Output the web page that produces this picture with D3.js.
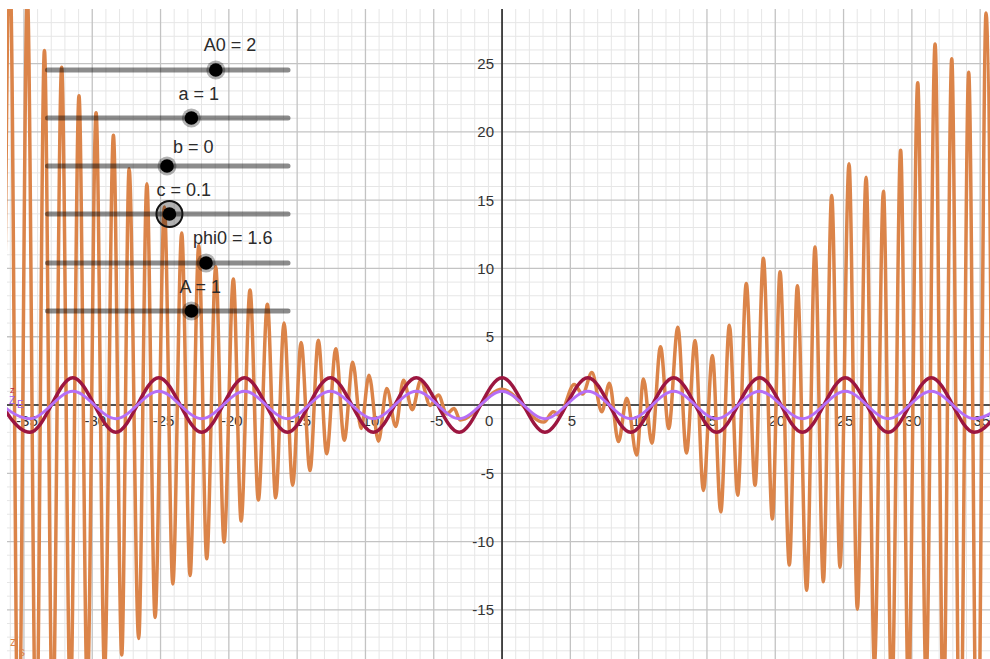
<!DOCTYPE html>
<html>
<head>
<meta charset="utf-8">
<script src="https://cdn.jsdelivr.net/npm/d3@7"></script>
<style>
body { margin: 0; background: #fff; }
text { font-family: "Liberation Sans", Arial, sans-serif; }
</style>
</head>
<body>
<svg id="graph" width="990" height="659"></svg>
<script>
// tick labels on the axes
var xTicks = [-35, -30, -25, -20, -15, -10, -5, 5, 10, 15, 20, 25, 30, 35];
var yTicks = [-15, -10, -5, 5, 10, 15, 20, 25];

// the two slow waves: extrema positions
var slowX = [-37.70, -34.56, -31.42, -28.27, -25.13, -21.99, -18.85, -15.71, -12.57, -9.42, -6.28, -3.14,
	0, 3.14, 6.28, 9.42, 12.57, 15.71, 18.85, 21.99, 25.13, 28.27, 31.42, 34.56, 37.70];
var redY = [2, -2, 2, -2, 2, -2, 2, -2, 2, -2, 2, -2, 2, -2, 2, -2, 2, -2, 2, -2, 2, -2, 2, -2, 2];
var purpleY = [1, -1, 1, -1, 1, -1, 1, -1, 1, -1, 1, -1, 1, -1, 1, -1, 1, -1, 1, -1, 1, -1, 1, -1, 1];

// the fast orange curve: peaks and troughs [x, y]
var orangeCurve = [
	[-36.7, -30], [-36.0, 31], [-35.4, -28], [-34.75, 30], [-34.1, -26], [-33.5, 25.97],
	[-32.9, -24], [-32.24, 24.74], [-31.6, -22], [-30.97, 22.65], [-30.36, -21], [-29.72, 21.4],
	[-29.1, -19.5], [-28.45, 19.75], [-27.84, -18.3], [-27.3, 17.3], [-26.6, -17.1], [-26.0, 16.2],
	[-25.4, -15.57], [-24.72, 14.5], [-24.1, -13.1], [-23.45, 12.6], [-22.84, -12.49], [-22.2, 11.68],
	[-21.62, -11.26], [-20.96, 10.12], [-20.35, -10.03], [-19.67, 9.23], [-19.1, -8.49], [-18.45, 8.43],
	[-17.84, -6.95], [-17.18, 7.37], [-16.57, -6.8], [-15.96, 6.0], [-15.33, -5.88], [-14.71, 4.58],
	[-14.06, -4.8], [-13.45, 4.74], [-12.84, -3.57], [-12.17, 4.12], [-11.55, -2.58], [-10.93, 3.14],
	[-10.32, -1.72], [-9.74, 2.18], [-9.05, -2.65], [-8.44, 1.2], [-7.78, -1.57], [-7.22, 1.82],
	[-6.57, -0.34], [-5.95, 1.82], [-5.27, -0.03], [-4.66, 0.74], [-4.05, -0.65], [-3.51, -0.25],
	[-3.07, -1.1], [0, 1.15], [3.05, -1.25], [3.75, -0.5], [4.2, -0.75], [5.28, 1.5],
	[5.9, 0.8], [6.58, 2.38], [7.30, -0.49], [7.86, 1.59], [8.52, -2.68], [9.13, 0.49],
	[9.86, -3.66], [10.35, 1.90], [10.97, -2.8], [11.6, 4.27], [12.2, -1.72], [12.87, 5.7],
	[13.5, -3.52], [14.13, 4.72], [14.74, -6.26], [15.4, 3.62], [16.01, -7.82], [16.64, 5.84],
	[17.25, -6.6], [17.88, 8.89], [18.52, -5.88], [19.13, 10.74], [19.79, -8.34], [20.35, 9.75],
	[21.03, -11.72], [21.62, 8.74], [22.3, -13.57], [22.91, 11.57], [23.52, -12.95], [24.13, 15.35],
	[24.74, -11.88], [25.40, 17.66], [26.01, -14.95], [26.65, 16.68], [27.26, -19], [27.92, 15.66],
	[28.53, -21.8], [29.18, 18.65], [29.75, -21.3], [30.43, 23.6], [31.04, -20.3], [31.70, 26.43],
	[32.31, -23.2], [32.92, 25.35], [33.53, -28.4], [34.16, 24.37], [34.8, -30.8], [35.43, 28.7],
	[36.05, -30]
];

// sliders
var sliderNames = ["A0", "a", "b", "c", "phi0", "A"];
var sliderValues = [2, 1, 0, 0.1, 1.6, 1];
var sliderRange = [-5, 5];

var svg = d3.select("#graph");
var view = {left: 7, top: 9, right: 990, bottom: 659};

var x = d3.scaleLinear().domain([-36.24, 35.72]).range([view.left, view.right]);
var y = d3.scaleLinear().domain([29.0, -18.6]).range([view.top, view.bottom]);

svg.append("rect").attr("width", 990).attr("height", 659).attr("fill", "#fff");

svg.append("clipPath").attr("id", "clip")
	.append("rect")
	.attr("x", view.left).attr("y", view.top)
	.attr("width", view.right - view.left).attr("height", view.bottom - view.top);

var plot = svg.append("g").attr("clip-path", "url(#clip)");

// grid: minor every 1, major every 5
var minorX = d3.range(-36, 36).filter(function(d) { return d % 5 != 0; });
var minorY = d3.range(-18, 29).filter(function(d) { return d % 5 != 0; });
var majorX = d3.range(-35, 36, 5);
var majorY = d3.range(-15, 29, 5);

plot.selectAll(".minx").data(minorX).enter().append("line")
	.attr("x1", function(d) { return x(d); }).attr("x2", function(d) { return x(d); })
	.attr("y1", view.top).attr("y2", view.bottom)
	.attr("stroke", "#e6e6e6").attr("stroke-width", 1);
plot.selectAll(".miny").data(minorY).enter().append("line")
	.attr("y1", function(d) { return y(d); }).attr("y2", function(d) { return y(d); })
	.attr("x1", view.left).attr("x2", view.right)
	.attr("stroke", "#e6e6e6").attr("stroke-width", 1);
plot.selectAll(".majx").data(majorX).enter().append("line")
	.attr("x1", function(d) { return x(d); }).attr("x2", function(d) { return x(d); })
	.attr("y1", view.top).attr("y2", view.bottom)
	.attr("stroke", "#c3c3c3").attr("stroke-width", 1.3);
plot.selectAll(".majy").data(majorY).enter().append("line")
	.attr("y1", function(d) { return y(d); }).attr("y2", function(d) { return y(d); })
	.attr("x1", view.left).attr("x2", view.right)
	.attr("stroke", "#c3c3c3").attr("stroke-width", 1.3);

// axes
plot.append("line")
	.attr("x1", view.left).attr("x2", view.right)
	.attr("y1", y(0)).attr("y2", y(0))
	.attr("stroke", "#262626").attr("stroke-width", 1.6);
plot.append("line")
	.attr("x1", x(0)).attr("x2", x(0))
	.attr("y1", view.top).attr("y2", view.bottom)
	.attr("stroke", "#262626").attr("stroke-width", 1.6);

// tick labels
plot.selectAll(".xlab").data(xTicks).enter().append("text")
	.attr("x", function(d) { return x(d) + (d < 0 ? 3 : 1.5); })
	.attr("y", y(0) + 21)
	.attr("text-anchor", "middle")
	.attr("font-size", 15)
	.attr("fill", "#333")
	.text(function(d) { return d; });
plot.append("text")
	.attr("x", x(0) - 13).attr("y", y(0) + 21)
	.attr("text-anchor", "middle")
	.attr("font-size", 15).attr("fill", "#333")
	.text("0");
plot.selectAll(".ylab").data(yTicks).enter().append("text")
	.attr("x", x(0) - 8)
	.attr("y", function(d) { return y(d) + 5.5; })
	.attr("text-anchor", "end")
	.attr("font-size", 15)
	.attr("fill", "#333")
	.text(function(d) { return d; });

// curves
var line = d3.line()
	.x(function(d) { return x(d[0]); })
	.y(function(d) { return y(d[1]); })
	.curve(d3.curveMonotoneX);

plot.append("path")
	.datum(orangeCurve)
	.attr("d", line)
	.attr("fill", "none")
	.attr("stroke", "#db8449")
	.attr("stroke-width", 3.5)
	.attr("stroke-linejoin", "round");

plot.append("path")
	.datum(slowX.map(function(d, i) { return [d, redY[i]]; }))
	.attr("d", line)
	.attr("fill", "none")
	.attr("stroke", "#9c1640")
	.attr("stroke-width", 3.5);

plot.append("path")
	.datum(slowX.map(function(d, i) { return [d, purpleY[i]]; }))
	.attr("d", line)
	.attr("fill", "none")
	.attr("stroke", "#b66ef6")
	.attr("stroke-width", 3);

// clipped function labels at the left border
plot.append("text").attr("x", 10).attr("y", 393).attr("font-size", 9).attr("fill", "#c0203a").text("z");
plot.append("text").attr("x", 9).attr("y", 404).attr("font-size", 10).attr("fill", "#a060f0").text("Z");
plot.append("text").attr("x", 17).attr("y", 408).attr("font-size", 10).attr("fill", "#a060f0").text("E");
plot.append("text").attr("x", 10).attr("y", 646).attr("font-size", 12).attr("fill", "#db8449").text("z");
plot.append("text").attr("x", 19).attr("y", 656).attr("font-size", 12).attr("fill", "#db8449").text("s");

// sliders
var sx = d3.scaleLinear().domain(sliderRange).range([45, 289]);
var sliderTop = [70, 118, 166, 214, 263, 311];
var labelOffset = [[-12, -19], [-13, -18], [6, -13], [-13, -18], [-13, -19], [-12, -18]];

var sliders = svg.selectAll(".slider")
	.data(sliderNames)
	.enter()
	.append("g")
	.attr("class", "slider")
	.attr("transform", function(d, i) { return "translate(0," + sliderTop[i] + ")"; });

sliders.append("line")
	.attr("x1", sx(sliderRange[0]) + 2.5).attr("x2", sx(sliderRange[1]) - 1)
	.attr("stroke", "#000").attr("stroke-opacity", 0.45)
	.attr("stroke-width", 5).attr("stroke-linecap", "round");

sliders.append("circle")
	.attr("cx", function(d, i) { return sx(sliderValues[i]); })
	.attr("r", function(d) { return d == "c" ? 13 : 9.5; })
	.attr("fill", "#000").attr("fill-opacity", 0.3)
	.attr("stroke", function(d) { return d == "c" ? "#111" : "none"; })
	.attr("stroke-width", 2);

sliders.append("circle")
	.attr("cx", function(d, i) { return sx(sliderValues[i]); })
	.attr("r", 6.8)
	.attr("fill", "#000");

sliders.append("text")
	.attr("x", function(d, i) { return sx(sliderValues[i]) + labelOffset[i][0]; })
	.attr("y", function(d, i) { return labelOffset[i][1]; })
	.attr("font-size", 18)
	.attr("fill", "#2b2b2b")
	.text(function(d, i) { return d + " = " + sliderValues[i]; });
</script>
</body>
</html>
